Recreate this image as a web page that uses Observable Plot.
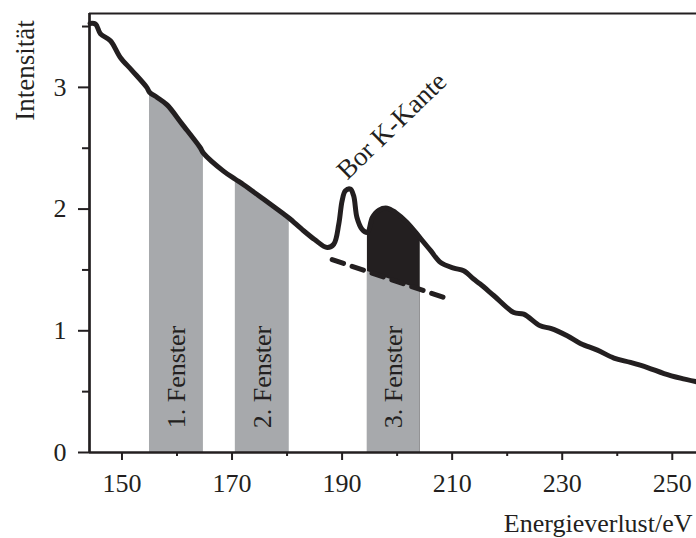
<!DOCTYPE html>
<html>
<head>
<meta charset="utf-8">
<script src="https://cdn.jsdelivr.net/npm/d3@7"></script>
<script src="https://cdn.jsdelivr.net/npm/@observablehq/plot@0.6"></script>
<style>
  html, body { margin: 0; padding: 0; background: #fff; }
</style>
</head>
<body>
<div id="chart"></div>
<script>
// Spectrum (energy loss in eV, intensity)
const energy = [144.2, 145.2, 146.1, 147.9, 149.7, 151.8, 154.5, 155.0, 156.4, 158.2, 160.9, 164.2, 164.8,
  168.5, 170.6, 172.1, 175.7, 179.4, 180.4, 183.0, 185.0, 187.3, 188.5, 189.4, 190.0, 190.6, 191.5,
  192.1, 192.7, 193.6, 194.6, 195.5, 196.7, 198.2, 199.7, 201.8, 204.2, 206.1, 207.9, 210.3, 212.1,
  213.9, 215.1, 217.6, 221.2, 223.0, 226.0, 227.9, 230.9, 233.3, 236.4, 239.4, 242.4, 245.5, 248.5,
  251.5, 254.4];
const intensity = [3.525, 3.52, 3.44, 3.383, 3.246, 3.14, 3.0, 2.96, 2.917, 2.856, 2.70, 2.506, 2.46,
  2.31, 2.245, 2.20, 2.082, 1.959, 1.925, 1.822, 1.75, 1.684, 1.712, 1.877, 2.068, 2.150, 2.164,
  2.109, 1.931, 1.836, 1.808, 1.931, 1.992, 2.008, 1.972, 1.890, 1.762, 1.658, 1.561, 1.515, 1.493,
  1.425, 1.384, 1.288, 1.150, 1.137, 1.041, 1.019, 0.959, 0.896, 0.841, 0.776, 0.740, 0.698, 0.649,
  0.611, 0.581];

// Energy windows
const windowStart = [155.0, 170.6, 194.6];
const windowEnd = [164.8, 180.4, 204.2];
const windowLabels = ["1. Fenster", "2. Fenster", "3. Fenster"];

// Extrapolated background (dashed)
const bgEnergy = [188.2, 208.5];
const bgIntensity = [1.585, 1.274];
// Background at the edges of window 3
const bgWindowIntensity = [1.487, 1.340];

// Axis ticks
const xTicks = [150, 170, 190, 210, 230, 250];
const xMinorTicks = [160, 180, 200, 220, 240];
const yTicks = [0, 1, 2, 3];
const yMinorTicks = [0.5, 1.5, 2.5, 3.5];

const edgeLabel = "Bor K-Kante";
const xLabel = "Energieverlust/eV";
const yLabel = "Intensität";

const xDomain = [144.1, 254.4];
const yDomain = [0, 3.607];

const ink = "#231f20";
const gray = "#a7a9ac";

const curve = energy.map((e, i) => ({e, v: intensity[i]}));
const windows = windowStart.map((s, i) => ({
  i, s, end: windowEnd[i], label: windowLabels[i], mid: (s + windowEnd[i]) / 2,
  pts: curve.filter(d => d.e >= s - 1e-9 && d.e <= windowEnd[i] + 1e-9)
}));
const bg = bgEnergy.map((e, i) => ({e, v: bgIntensity[i]}));
const bgW3 = [{e: windowStart[2], v: bgWindowIntensity[0]}, {e: windowEnd[2], v: bgWindowIntensity[1]}];

const font = "Liberation Serif, Times New Roman, serif";

const chart = Plot.plot({
  width: 696,
  height: 538,
  marginLeft: 89,
  marginRight: 0,
  marginTop: 13,
  marginBottom: 86,
  style: {fontFamily: font, fontSize: "26px", color: ink, background: "#fff"},
  x: {domain: xDomain},
  y: {domain: yDomain},
  marks: [
    // gray windows 1 and 2
    Plot.areaY(windows[0].pts, {x: "e", y: "v", fill: gray, curve: "catmull-rom"}),
    Plot.areaY(windows[1].pts, {x: "e", y: "v", fill: gray, curve: "catmull-rom"}),
    // window 3: black edge signal above gray background
    Plot.areaY(windows[2].pts, {x: "e", y: "v", fill: ink, curve: "catmull-rom"}),
    Plot.areaY(bgW3, {x: "e", y: "v", fill: gray}),
    // window labels
    Plot.text(windows, {x: "mid", y: 0.62, text: "label", rotate: -90, fontSize: 26, fill: ink, textAnchor: "middle", lineAnchor: "middle"}),
    // spectrum
    Plot.line(curve, {x: "e", y: "v", stroke: ink, strokeWidth: 5, curve: "catmull-rom", strokeLinejoin: "round", strokeLinecap: "round"}),
    // dashed background
    Plot.line(bg, {x: "e", y: "v", stroke: ink, strokeWidth: 5, strokeDasharray: "12,9"}),
    // edge label
    Plot.text([edgeLabel], {x: 199.0, y: 2.684, text: d => d, rotate: -44, fontSize: 27, fill: ink, textAnchor: "middle", lineAnchor: "middle"}),
    // axes
    Plot.axisX({ticks: xTicks, tickSize: 8, tickPadding: 13, strokeWidth: 2, fontSize: 26, color: ink, label: null, tickFormat: d => String(d)}),
    Plot.axisX({ticks: xMinorTicks, tickSize: 4, strokeWidth: 2, color: ink, text: null, label: null}),
    Plot.axisY({ticks: yTicks, tickSize: 11, tickPadding: 12, strokeWidth: 2, fontSize: 26, color: ink, label: null, tickFormat: d => String(d)}),
    Plot.axisY({ticks: yMinorTicks, tickSize: 7, strokeWidth: 2, color: ink, text: null, label: null}),
    Plot.ruleY([yDomain[0]], {stroke: ink, strokeWidth: 2.7}),
    Plot.ruleX([xDomain[0]], {stroke: ink, strokeWidth: 2.7}),
    Plot.ruleY([yDomain[1]], {stroke: ink, strokeWidth: 2.2}),
    // axis titles
    Plot.text([xLabel], {frameAnchor: "bottom-right", text: d => d, textAnchor: "end", lineAnchor: "middle", dx: -4, dy: 71, fontSize: 26, fill: ink}),
    Plot.text([yLabel], {frameAnchor: "top-left", text: d => d, rotate: -90, textAnchor: "middle", lineAnchor: "middle", dx: -64, dy: 57, fontSize: 27, fill: ink})
  ]
});
document.getElementById("chart").appendChild(chart);
</script>
</body>
</html>
